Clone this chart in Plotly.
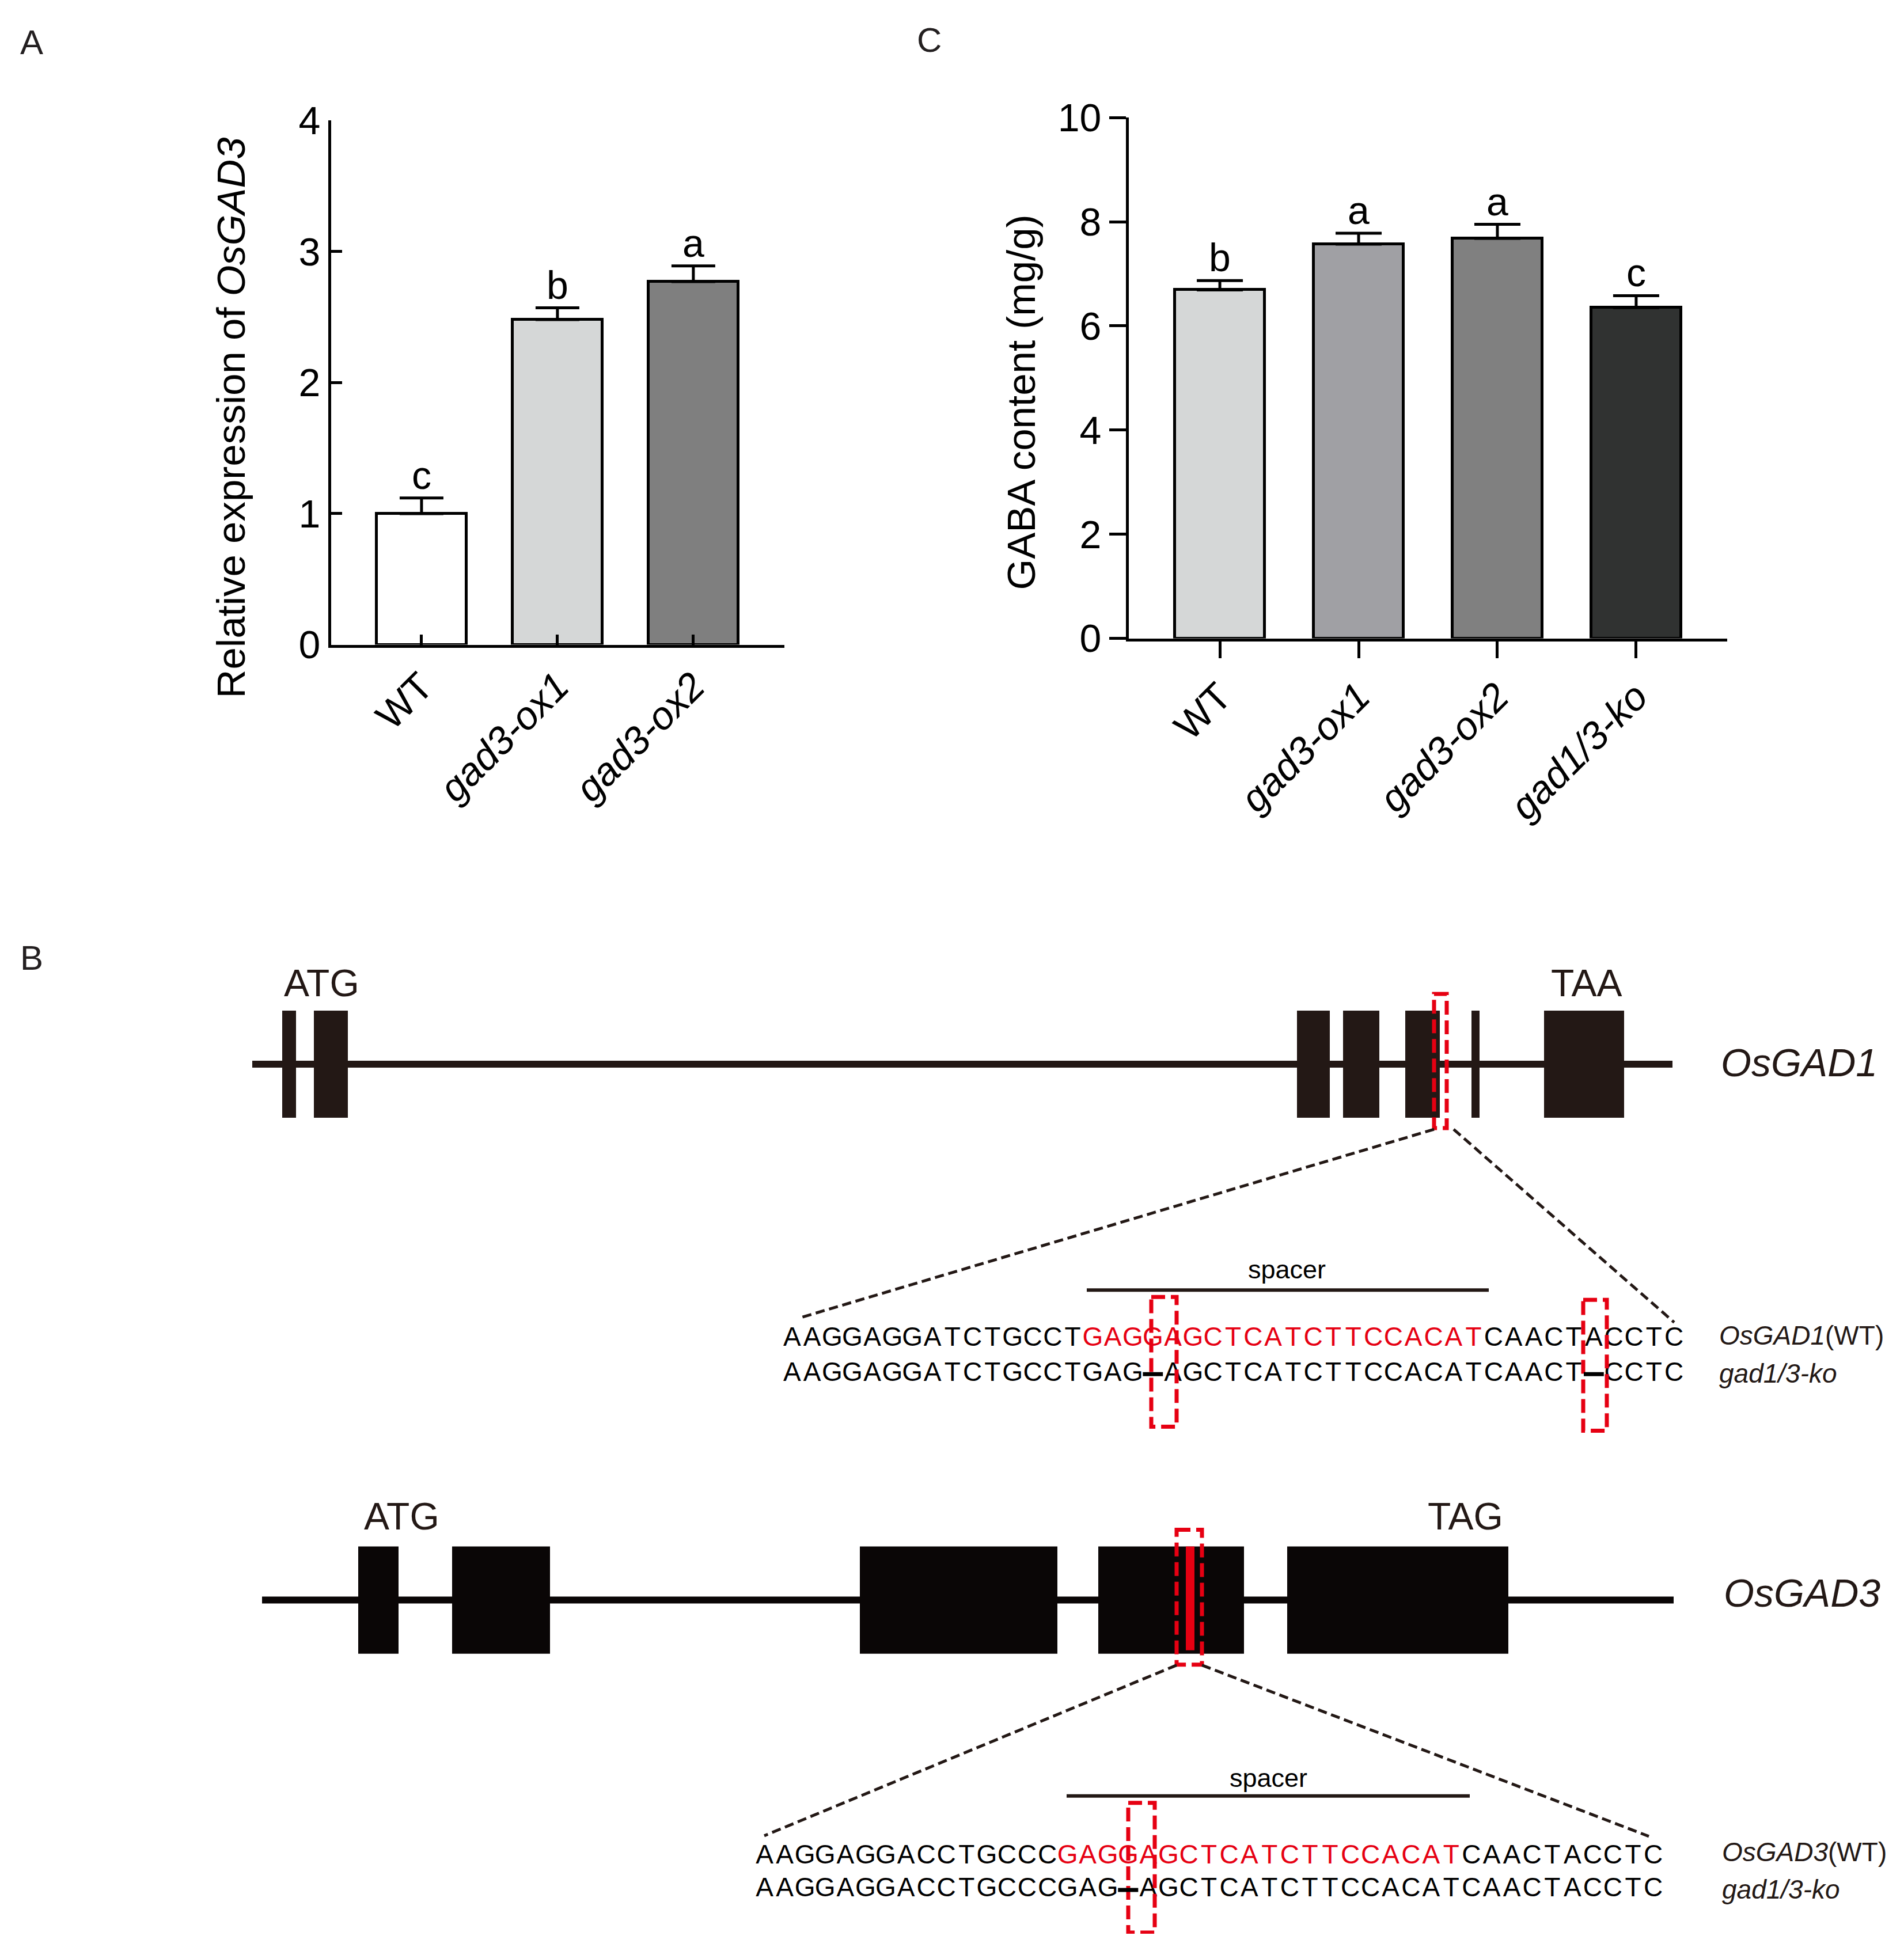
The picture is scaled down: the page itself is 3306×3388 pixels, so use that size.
import plotly.graph_objects as go

W, H = 3306, 3388
FONT = "Arial, Liberation Sans, sans-serif"

# ---------------- Panel A data ----------------
A_X = [0, 1, 2]
A_TICKTEXT = ["WT", "<i>gad3-ox1</i>", "<i>gad3-ox2</i>"]
A_MEAN = [1.00, 2.48, 2.77]
A_ERR = [0.12, 0.09, 0.12]
A_LETTERS = ["c", "b", "a"]
A_COLORS = ["#ffffff", "#d5d7d7", "#7f7f7f"]
A_YTICKS = [0, 1, 2, 3, 4]

# ---------------- Panel C data ----------------
C_X = [0, 1, 2, 3]
C_TICKTEXT = ["WT", "<i>gad3-ox1</i>", "<i>gad3-ox2</i>", "<i>gad1/3-ko</i>"]
C_MEAN = [6.69, 7.57, 7.68, 6.35]
C_ERR = [0.18, 0.21, 0.27, 0.23]
C_LETTERS = ["b", "a", "a", "c"]
C_COLORS = ["#d5d7d7", "#a0a0a4", "#808080", "#303231"]
C_YTICKS = [0, 2, 4, 6, 8, 10]

# ---------------- Panel B data (diagram units) ----------------
GAD1_SPAN = [437, 2903]
GAD1_EXON_START = [489, 544, 2251, 2331, 2439, 2554, 2680]
GAD1_EXON_END = [513, 603, 2308, 2394, 2499, 2568, 2819]
GAD1_TARGET = [2489, 2511]
GAD1_CODONS = ["ATG", "TAA"]
GAD1_CODON_X = [557, 2753]

GAD3_SPAN = [454, 2905]
GAD3_EXON_START = [621, 784, 1492, 1906, 2234]
GAD3_EXON_END = [691, 954, 1835, 2159, 2618]
GAD3_TARGET = [2042, 2086]
GAD3_TARGET_FILL = [2058, 2073]
GAD3_CODONS = ["ATG", "TAG"]
GAD3_CODON_X = [696, 2543]

GAD1_WT = "AAGGAGGATCTGCCTGAGGAGCTCATCTTCCACATCAACTACCTC"
GAD1_KO = "AAGGAGGATCTGCCTGAG-AGCTCATCTTCCACATCAACT-CCTC"
GAD3_WT = "AAGGAGGACCTGCCCGAGGAGCTCATCTTCCACATCAACTACCTC"
GAD3_KO = "AAGGAGGACCTGCCCGAG-AGCTCATCTTCCACATCAACTACCTC"
SPACER_IDX = [15, 35]          # red spacer characters (start, end-exclusive)

RED = "#e60012"
EXON1_COLOR = "#231815"
EXON3_COLOR = "#0a0606"

# page placement of the figure canvas (compensates the offset seen in the rendered page)
OFF_X, OFF_Y, SCALE_Y = 7, 48, 0.977


def px(x):
    return (x - OFF_X) / W


def py(y):
    return 1 - ((y - OFF_Y) / SCALE_Y) / H


fig = go.Figure()

# ---------------- Panel A ----------------
fig.add_trace(go.Bar(
    x=A_X, y=A_MEAN, width=0.66, marker=dict(color=A_COLORS, line=dict(color="black", width=5)),
    error_y=dict(type="data", array=A_ERR, arrayminus=[0] * len(A_ERR), symmetric=False,
                 thickness=5, width=38, color="black"),
    xaxis="x", yaxis="y", showlegend=False))

# ---------------- Panel C ----------------
fig.add_trace(go.Bar(
    x=C_X, y=C_MEAN, width=0.65, marker=dict(color=C_COLORS, line=dict(color="black", width=5)),
    error_y=dict(type="data", array=C_ERR, arrayminus=[0] * len(C_ERR), symmetric=False,
                 thickness=5, width=40, color="black"),
    xaxis="x2", yaxis="y2", showlegend=False))

annotations = []
for xi, m, e, l in zip(A_X, A_MEAN, A_ERR, A_LETTERS):
    annotations.append(dict(x=xi, y=m + e, xref="x", yref="y", text=l, showarrow=False,
                            xanchor="center", yanchor="bottom", yshift=0,
                            font=dict(family=FONT, size=68, color="black")))
for xi, m, e, l in zip(C_X, C_MEAN, C_ERR, C_LETTERS):
    annotations.append(dict(x=xi, y=m + e, xref="x2", yref="y2", text=l, showarrow=False,
                            xanchor="center", yanchor="bottom", yshift=0,
                            font=dict(family=FONT, size=68, color="black")))

# y titles (on the full-page diagram axis)
annotations.append(dict(x=400, y=727, xref="x3", yref="y3", textangle=-90,
                        xanchor="center", yanchor="middle",
                        text="Relative expression of <i>OsGAD3</i>", showarrow=False,
                        font=dict(family=FONT, size=69, color="black")))
annotations.append(dict(x=1772, y=700, xref="x3", yref="y3", textangle=-90,
                        xanchor="center", yanchor="middle",
                        text="GABA content (mg/g)", showarrow=False,
                        font=dict(family=FONT, size=69, color="black")))

# panel letters
for t, (lx, ly) in zip(["A", "B", "C"], [(54, 75), (54, 1665), (1612, 71)]):
    annotations.append(dict(x=lx, y=ly, xref="x3", yref="y3", text=t,
                            xanchor="center", yanchor="middle",
                            showarrow=False, font=dict(family=FONT, size=60, color="#231f20")))

# ---------------- Panel B (diagram axis x3/y3) ----------------
shapes = []


def gene(span, starts, ends, yc, half, color):
    shapes.append(dict(type="line", xref="x3", yref="y3", x0=span[0], x1=span[1], y0=yc, y1=yc,
                       line=dict(color=color, width=12)))
    for s, e in zip(starts, ends):
        shapes.append(dict(type="rect", xref="x3", yref="y3", x0=s, x1=e, y0=yc - half, y1=yc + half,
                           fillcolor=color, line=dict(width=0)))


gene(GAD1_SPAN, GAD1_EXON_START, GAD1_EXON_END, 1849, 93, EXON1_COLOR)
gene(GAD3_SPAN, GAD3_EXON_START, GAD3_EXON_END, 2779, 93, EXON3_COLOR)

# red filled target in GAD3
shapes.append(dict(type="rect", xref="x3", yref="y3", x0=GAD3_TARGET_FILL[0], x1=GAD3_TARGET_FILL[1],
                   y0=2686, y1=2866, fillcolor=RED, line=dict(width=0)))


def redbox(x0, x1, y0, y1):
    shapes.append(dict(type="rect", xref="x3", yref="y3", x0=x0, x1=x1, y0=y0, y1=y1,
                       fillcolor="rgba(0,0,0,0)", line=dict(color=RED, width=7, dash="24px,10px")))


def dashline(x0, y0, x1, y1):
    shapes.append(dict(type="line", xref="x3", yref="y3", x0=x0, y0=y0, x1=x1, y1=y1,
                       line=dict(color="#231815", width=5, dash="16px,8px")))


# GAD1 target box and zoom lines
redbox(GAD1_TARGET[0], GAD1_TARGET[1], 1727, 1960)
dashline(GAD1_TARGET[0], 1962, 1385, 2290)
dashline(GAD1_TARGET[1] + 12, 1962, 2906, 2297)
# GAD3 target box and zoom lines
redbox(GAD3_TARGET[0], GAD3_TARGET[1], 2657, 2891)
dashline(GAD3_TARGET[0], 2892, 1326, 3188)
dashline(GAD3_TARGET[1], 2892, 2862, 3189)

# spacer bars
for x0, x1, y in [(1886, 2584, 2241), (1851, 2551, 3119)]:
    shapes.append(dict(type="line", xref="x3", yref="y3", x0=x0, x1=x1, y0=y, y1=y,
                       line=dict(color="#231815", width=6)))
for x, y in [(2233, 2205), (2201, 3088)]:
    annotations.append(dict(x=x, y=y, xref="x3", yref="y3", text="spacer", showarrow=False,
                            font=dict(family=FONT, size=45, color="black")))

# deletion boxes in sequences
redbox(1998, 2042, 2253, 2478)
redbox(2748, 2789, 2258, 2485)
redbox(1958, 2004, 3131, 3356)

# codon labels and gene names
for t, x in zip(GAD1_CODONS, GAD1_CODON_X):
    annotations.append(dict(x=x, y=1708, xref="x3", yref="y3", text=t, showarrow=False,
                            font=dict(family=FONT, size=66, color="#231815")))
for t, x in zip(GAD3_CODONS, GAD3_CODON_X):
    annotations.append(dict(x=x, y=2633, xref="x3", yref="y3", text=t, showarrow=False,
                            font=dict(family=FONT, size=66, color="#231815")))
annotations.append(dict(x=2985, y=1846, xref="x3", yref="y3", text="<i>OsGAD1</i>", showarrow=False,
                        xanchor="left", font=dict(family=FONT, size=68, color="#231815")))
annotations.append(dict(x=2990, y=2766, xref="x3", yref="y3", text="<i>OsGAD3</i>", showarrow=False,
                        xanchor="left", font=dict(family=FONT, size=68, color="#231815")))

# row labels
for txt, x, y in [("<i>OsGAD1</i>(WT)", 2982, 2320), ("<i>gad1/3-ko</i>", 2982, 2386),
                  ("<i>OsGAD3</i>(WT)", 2987, 3216), ("<i>gad1/3-ko</i>", 2987, 3281)]:
    annotations.append(dict(x=x, y=y, xref="x3", yref="y3", text=txt, showarrow=False,
                            xanchor="left", font=dict(family=FONT, size=46, color="#231815")))


def seq_trace(seq, x0, cw, y, red_range=None):
    xs, ts, cs = [], [], []
    for i, ch in enumerate(seq):
        xc = x0 + cw * (i + 0.5)
        if ch == "-":
            # deletion: thick dash spanning the character cell
            shapes.append(dict(type="line", xref="x3", yref="y3", x0=xc - cw * 0.5, x1=xc + cw * 0.5,
                               y0=y, y1=y, line=dict(color="black", width=7)))
            continue
        xs.append(xc)
        ts.append(ch)
        red = red_range is not None and red_range[0] <= i < red_range[1]
        cs.append(RED if red else "black")
    fig.add_trace(go.Scatter(x=xs, y=[y] * len(xs), mode="text", text=ts,
                             textfont=dict(family=FONT, size=46, color=cs),
                             textposition="middle center", xaxis="x3", yaxis="y3",
                             showlegend=False, hoverinfo="skip", cliponaxis=False))


seq_trace(GAD1_WT, 1357, 34.8, 2326, SPACER_IDX)
seq_trace(GAD1_KO, 1357, 34.8, 2387)
seq_trace(GAD3_WT, 1309, 35.07, 3225, SPACER_IDX)
seq_trace(GAD3_KO, 1309, 35.07, 3282)

axis_common = dict(showline=True, linecolor="black", linewidth=5, showgrid=False, zeroline=False,
                   tickcolor="black", tickwidth=5, tickfont=dict(family=FONT, size=68, color="black"))

fig.update_layout(
    width=W, height=H, margin=dict(l=0, r=0, t=0, b=0),
    paper_bgcolor="white", plot_bgcolor="rgba(0,0,0,0)",
    showlegend=False, bargap=0,
    xaxis=dict(domain=[px(574), px(1361)], range=[-0.665, 2.67], anchor="y",
               tickmode="array", tickvals=A_X, ticktext=A_TICKTEXT, ticks="inside", ticklen=18,
               tickangle=-45, **axis_common),
    yaxis=dict(domain=[py(1121), py(211)], range=[0, 4], anchor="x",
               tickmode="array", tickvals=A_YTICKS, ticks="inside", ticklen=19, **axis_common),
    xaxis2=dict(domain=[px(1959), px(2998)], range=[-0.656, 3.656], anchor="y2",
                tickmode="array", tickvals=C_X, ticktext=C_TICKTEXT, ticks="outside", ticklen=29,
                tickangle=-45, **axis_common),
    yaxis2=dict(domain=[py(1110), py(206)], range=[0, 10], anchor="x2",
                tickmode="array", tickvals=C_YTICKS, ticks="outside", ticklen=29, **axis_common),
    # full-page diagram axis in reference pixel units
    xaxis3=dict(domain=[0, 1], range=[OFF_X, OFF_X + W], anchor="y3", visible=False, fixedrange=True),
    yaxis3=dict(domain=[0, 1], range=[OFF_Y + SCALE_Y * H, OFF_Y], anchor="x3", visible=False,
                fixedrange=True),
    shapes=shapes, annotations=annotations,
)

fig.write_html("out.html")
